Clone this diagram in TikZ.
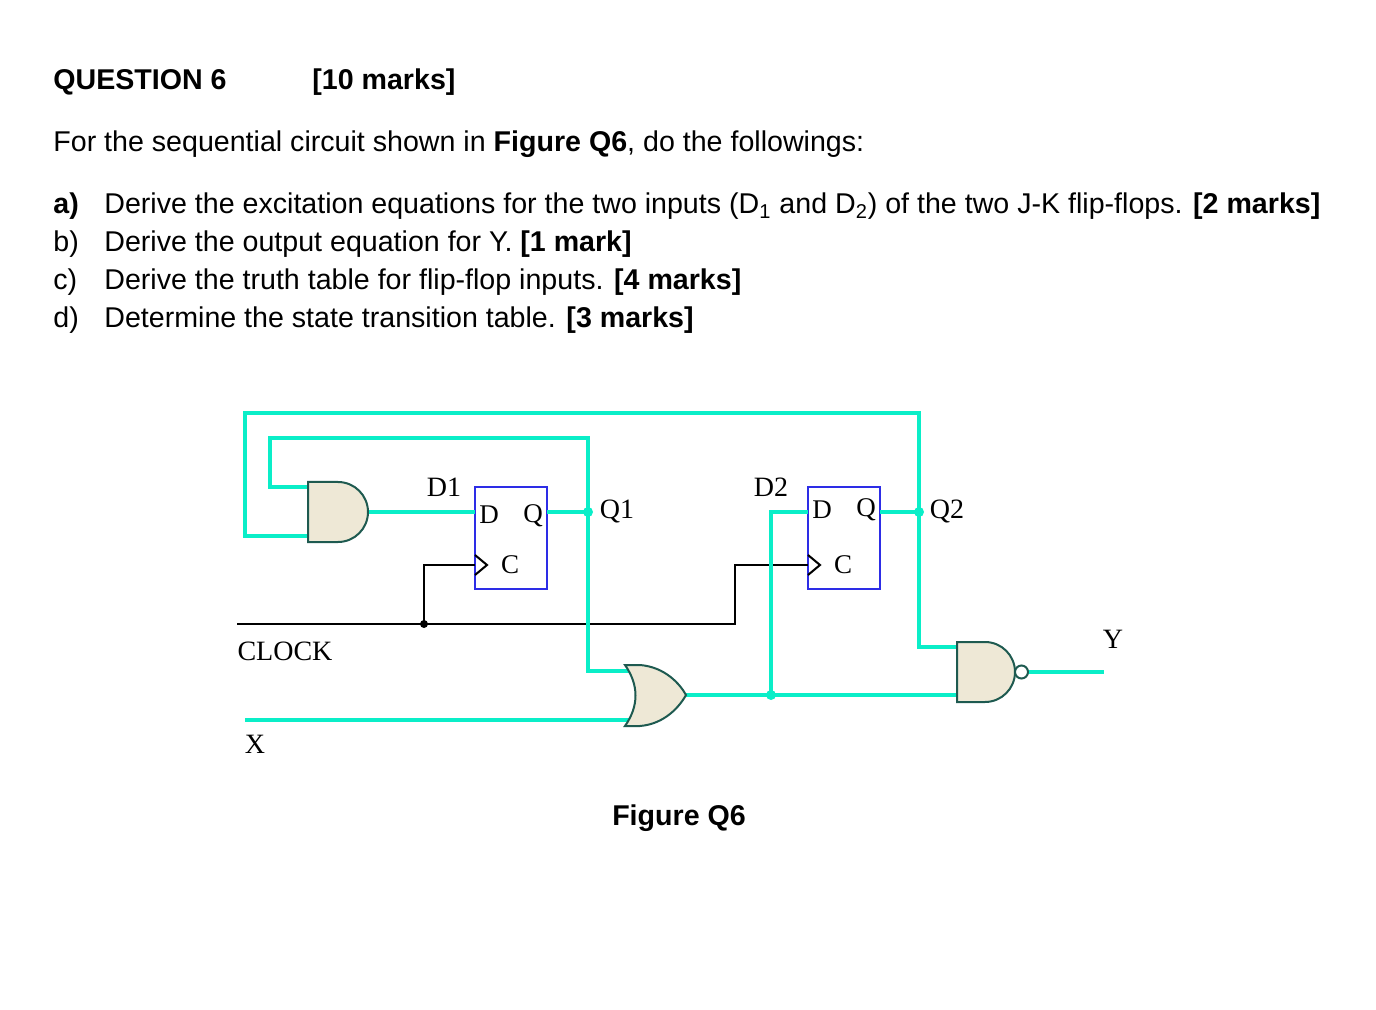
\documentclass[tikz,border=0pt]{standalone}
\usepackage{fontspec}
\setmainfont{Liberation Sans}
\newfontfamily\circfont{Liberation Serif}
\usetikzlibrary{calc}
\definecolor{wirecyan}{RGB}{10,238,200}
\definecolor{gatefill}{RGB}{238,232,214}
\definecolor{gateline}{RGB}{30,90,80}
\definecolor{ffblue}{RGB}{45,45,230}
\tikzset{
  wire/.style = {wirecyan, line width=2pt},
  clk/.style = {black, line width=1pt},
  gate/.style = {fill=gatefill, draw=gateline, line width=1pt},
  ff/.style = {draw=ffblue, line width=0.9pt},
  txt/.style = {anchor=base west, inner sep=0pt, font=\fontsize{14.3}{17}\selectfont},
  lbl/.style = {inner sep=0pt, font=\circfont\fontsize{14}{16}\selectfont},
  pin/.style = {inner sep=0pt, font=\circfont\fontsize{13.5}{15}\selectfont},
  dot/.style = {circle, fill, inner sep=0pt, minimum size=5pt}
}
\begin{document}
\begin{tikzpicture}[x=0.5pt, y=-0.5pt]
\useasboundingbox (0,0) rectangle (1376,1010);

%Heading and questions
\node[txt] (qhead) at (53,90) {\textbf{QUESTION 6}};
\node[txt] (qmarks) at (312,90) {\textbf{[10 marks]}};
\node[txt] (intro) at (53,152) {For the sequential circuit shown in \textbf{Figure Q6}, do the followings:};
\node[txt] (la) at (53,214) {\textbf{a)}};
\node[txt] (ta) at (104,214) {Derive the excitation equations for the two inputs (D\textsubscript{1} and D\textsubscript{2}) of the two J-K flip-flops. \textbf{[2 marks]}};
\node[txt] (lb) at (53,252) {b)};
\node[txt] (tb) at (104,252) {Derive the output equation for Y. \textbf{[1 mark]}};
\node[txt] (lc) at (53,290) {c)};
\node[txt] (tc) at (104,290) {Derive the truth table for flip-flop inputs. \textbf{[4 marks]}};
\node[txt] (ld) at (53,328) {d)};
\node[txt] (td) at (104,328) {Determine the state transition table. \textbf{[3 marks]}};

%Pins
\coordinate (andA) at (308,487);
\coordinate (andB) at (308,536);
\coordinate (andY) at (368,512);
\coordinate (ffaD) at (475,512);
\coordinate (ffaQ) at (547,512);
\coordinate (ffaC) at (475,565);
\coordinate (ffbD) at (808,512);
\coordinate (ffbQ) at (880,512);
\coordinate (ffbC) at (808,565);
\coordinate (orA) at (632,671);
\coordinate (orB) at (632,720);
\coordinate (orY) at (686,695);
\coordinate (nandA) at (957,647);
\coordinate (nandB) at (957,695);
\coordinate (nandY) at (1028,672);
\coordinate (yout) at (1104,672);
\coordinate (clkin) at (237,624);
\coordinate (xin) at (245,720);

%Flip-flops
\draw[ff] (475,487) rectangle (547,589);
\draw[ff] (808,487) rectangle (880,589);
\draw[clk] (475,555) -- (487,565) -- (475,575);
\draw[clk] (808,555) -- (820,565) -- (808,575);
\node[pin] (d1pin) at (489,515) {D};
\node[pin] (q1pin) at (533,516) {Q};
\node[pin] (c1pin) at (510,565) {C};
\node[pin] (d2pin) at (822,510) {D};
\node[pin] (q2pin) at (866,510) {Q};
\node[pin] (c2pin) at (843,565) {C};

%Clock
\draw[clk] (clkin) -- (735,624) |- (ffbC);
\draw[clk] (424,624) |- (ffaC);
\node[dot, minimum size=4pt] (clkdot) at (424,624) {};

%Wires
\draw[wire] (andY) -- (ffaD);
\draw[wire] (ffaQ) -- (588,512);
\draw[wire] (andA) -| (270,438) -| (588,671) -- (orA);
\draw[wire] (andB) -| (245,413) -| (919,647) -- (nandA);
\draw[wire] (ffbQ) -- (919,512);
\draw[wire] (xin) -- (orB);
\draw[wire] (orY) -- (nandB);
\draw[wire] (ffbD) -| (771,695);
\draw[wire] (nandY) -- (yout);
\node[dot, wirecyan] (q1dot) at (588,512) {};
\node[dot, wirecyan] (q2dot) at (919,512) {};
\node[dot, wirecyan] (d2dot) at (771,695) {};

%Gates
\draw[gate] (308,482) -- (338,482) arc(-90:90:30) -- (308,542) -- cycle;
\draw[gate] (625,665) -- (640,665) .. controls (665,667) and (680,684) .. (686,695)
  .. controls (680,706) and (665,724) .. (640,726) -- (625,726)
  .. controls (639,706) and (639,685) .. (625,665) -- cycle;
\draw[gate] (957,642) -- (985,642) arc(-90:90:30) -- (957,702) -- cycle;
\draw[gateline, fill=white, line width=1pt] (1021.5,672) circle (6.5);

%Labels
\node[lbl] (d1) at (444,487) {D1};
\node[lbl] (d2) at (771,487) {D2};
\node[lbl] (q1) at (617,511) {Q1};
\node[lbl] (q2) at (947,511) {Q2};
\node[lbl] (clock) at (285,651) {CLOCK};
\node[lbl] (xlbl) at (255,744) {X};
\node[lbl] (ylbl) at (1113,639) {Y};
\node[txt, anchor=base] (fig) at (679,825) {\textbf{Figure Q6}};
\end{tikzpicture}
\end{document}
